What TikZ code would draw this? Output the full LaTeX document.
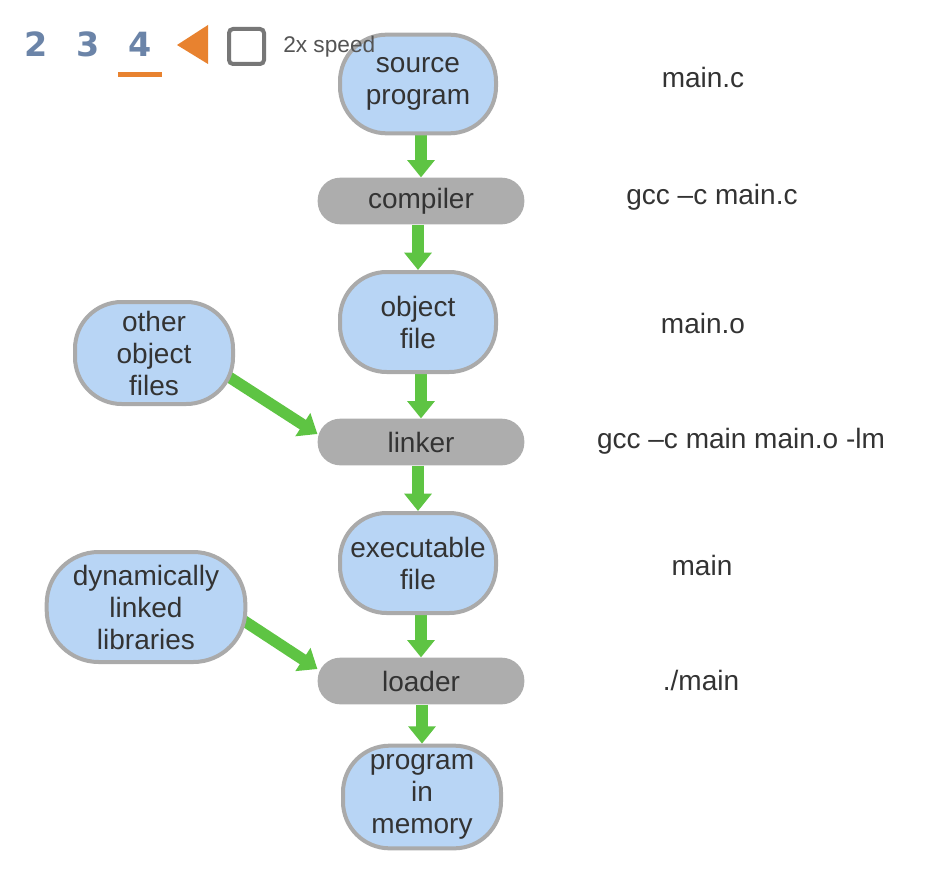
\documentclass[tikz,border=0pt]{standalone}
\usepackage{fontspec}
\setmainfont{Liberation Sans}
\newfontfamily\digfont{DejaVu Sans}
\usetikzlibrary{arrows.meta,backgrounds}
\definecolor{blobfill}{HTML}{B8D5F5}
\definecolor{blobedge}{HTML}{AAAAAA}
\definecolor{pillfill}{HTML}{ADADAD}
\definecolor{grn}{HTML}{5EC443}
\definecolor{txt}{HTML}{333333}
\definecolor{digit}{HTML}{6B84A8}
\definecolor{orng}{HTML}{E8822F}
\definecolor{chk}{HTML}{777777}
\begin{document}
\begin{tikzpicture}[x=0.75pt,y=-0.75pt,
  mainfont/.style={font=\fontsize{21}{24}\selectfont},
  blob/.style={draw=blobedge, line width=3pt, fill=blobfill, rounded corners=35pt,
    minimum width=117pt, minimum height=74pt, align=center, text=txt, mainfont, inner sep=0pt},
  pill/.style={fill=pillfill, rounded corners=17pt, minimum width=155pt, minimum height=35pt,
    text=txt, mainfont, inner sep=0pt},
  arr/.style={draw=grn, line width=8.5pt, -{Triangle[width=20pt,length=13pt]}},
  lbl/.style={text=txt, mainfont},
  dig/.style={text=digit, font=\digfont\bfseries\fontsize{25}{28}\selectfont}]
\useasboundingbox (0,0) rectangle (952,870);
% nodes
\node[blob] (src) at (418,84) {source\\program};
\node[pill] (comp) at (421,201) {compiler};
\node[blob, minimum height=75pt] (obj) at (418,322) {object\\file};
\node[blob, minimum width=118.5pt, minimum height=76.5pt] (other) at (154,353) {other\\object\\files};
\node[pill] (link) at (421,442) {linker};
\node[blob, minimum height=75pt] (exe) at (418,563) {executable\\file};
\node[blob, minimum width=149pt, minimum height=82.5pt, rounded corners=39pt] (dyn) at (146,607) {dynamically\\linked\\libraries};
\node[pill] (load) at (421,681) {loader};
\node[blob, minimum width=118.5pt, minimum height=77pt] (mem) at (422,797) {program\\in\\memory};
% right labels
\node[lbl] (l1) at (703,77) {main.c};
\node[lbl] (l2) at (712,197) {gcc –c main.c};
\node[lbl] (l3) at (703,323) {main.o};
\node[lbl] (l4) at (741,441) {gcc –c main main.o -lm};
\node[lbl] (l5) at (702,565) {main};
\node[lbl] (l6) at (701,680) {./main};
% arrows
\begin{pgfonlayer}{background}
\fill[white] (0,0) rectangle (952,870);
\draw[arr] (src.south -| comp) -- (comp.north);
\draw[arr] (comp.south -| obj) -- (obj.north);
\draw[arr] (obj.south -| link) -- (link.north);
\draw[arr] (link.south -| exe) -- (exe.north);
\draw[arr] (exe.south -| load) -- (load.north);
\draw[arr] (load.south -| mem) -- (mem.north);
\draw[arr, shorten <=-8pt] (other.-19) -- ([yshift=6pt]link.west);
\draw[arr, shorten <=-8pt] (dyn.-9) -- ([yshift=9pt]load.west);
\end{pgfonlayer}
% toolbar
\node[dig] (d2) at (36,44) {2};
\node[dig] (d3) at (88,44) {3};
\node[dig] (d4) at (140,44) {4};
\fill[orng] (118,72) rectangle (162,77);
\fill[orng] (177,45) -- (208,25) -- (208,64) -- cycle;
\draw[chk, line width=3pt, rounded corners=3pt] (229,29) rectangle (264,64);
\node[text=black!67, font=\fontsize{17}{20}\selectfont, anchor=west, inner sep=0pt] (spd) at (283,47) {2x speed};
\end{tikzpicture}
\end{document}
